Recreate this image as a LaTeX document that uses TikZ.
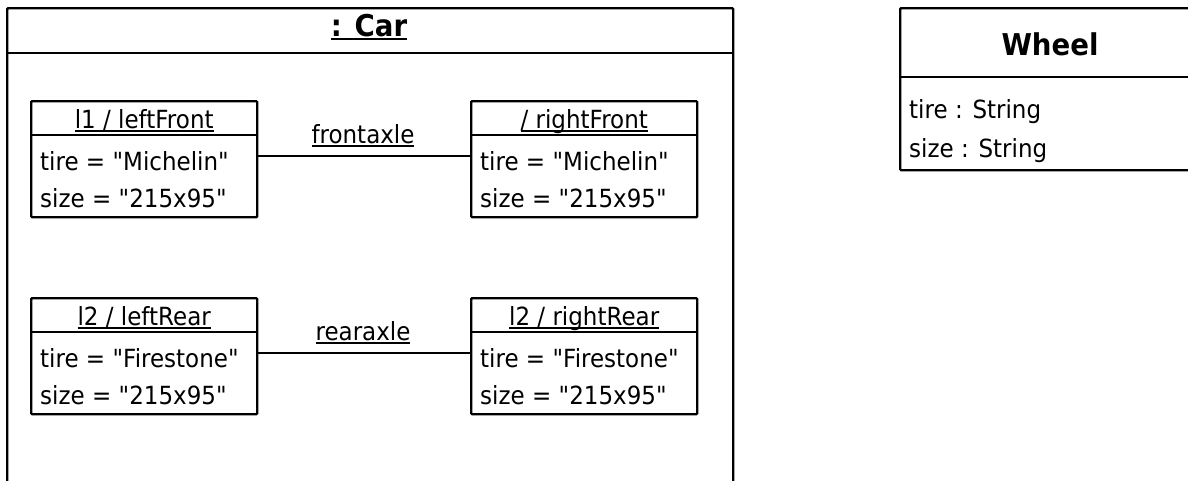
\documentclass[tikz,border=0pt]{standalone}
\usepackage{fontspec}
\setmainfont{DejaVu Sans}[FakeStretch=0.92,Ligatures=TeXOff]
\newcommand\ul[1]{\leavevmode\setbox0=\hbox{#1}\rlap{\copy0}\raisebox{-3.5pt}{\rule{\wd0}{1.8pt}}}
\newcommand\objbox[5]{%
  \node[box,minimum width=226pt,minimum height=116pt] (#1) at (#2,#3) {};
  \draw[conn] ([yshift=-35pt]#1.north west) -- ([yshift=-35pt]#1.north east);
  \node[lbl,anchor=base] (#1-t) at ([yshift=-28pt]#1.north) {\ul{#4}};
  \node[lbl,anchor=base west] (#1-a1) at ([xshift=10pt,yshift=-70pt]#1.north west) {tire = "#5"};
  \node[lbl,anchor=base west] (#1-a2) at ([xshift=10pt,yshift=-107pt]#1.north west) {size = "215x95"};
}
\begin{document}
\begin{tikzpicture}[x=1pt,y=-1pt,
  box/.style={draw,line width=2.4pt,anchor=north west,inner sep=0pt,rounded corners=1pt},
  lbl/.style={inner sep=0pt,font=\fontsize{25}{29}\selectfont},
  ttl/.style={inner sep=0pt,font=\fontsize{30}{34}\selectfont\bfseries},
  conn/.style={line width=2.4pt}]
\useasboundingbox (0,0) rectangle (1188,480);
\clip (0,0) rectangle (1188,480);
% Car container
\node[box,minimum width=726pt,minimum height=500pt] (car) at (6,7) {};
\draw[conn] ([yshift=-46pt]car.north west) -- ([yshift=-46pt]car.north east);
\node[ttl,anchor=base] (cart) at (369,36) {\ul{: Car}};
% objects
\objbox{lf}{30}{100}{l1 / leftFront}{Michelin}
\objbox{rf}{470}{100}{/ rightFront}{Michelin}
\objbox{lr}{30}{297}{l2 / leftRear}{Firestone}
\objbox{rr}{470}{297}{l2 / rightRear}{Firestone}
\draw[conn] ([yshift=3pt]lf.east) -- ([yshift=3pt]rf.west);
\draw[conn] ([yshift=3pt]lr.east) -- ([yshift=3pt]rr.west);
\node[lbl,anchor=base] (fa) at (363,143) {\ul{frontaxle}};
\node[lbl,anchor=base] (ra) at (363,340) {\ul{rearaxle}};
% Wheel class
\node[box,minimum width=320pt,minimum height=162pt] (wh) at (899,7) {};
\draw[conn] ([yshift=-70pt]wh.north west) -- ++(320,0);
\node[ttl,anchor=base] (wht) at (1050,55) {Wheel};
\node[lbl,anchor=base west] (wh1) at (909,118) {tire : String};
\node[lbl,anchor=base west] (wh2) at (909,157) {size : String};
\end{tikzpicture}
\end{document}
